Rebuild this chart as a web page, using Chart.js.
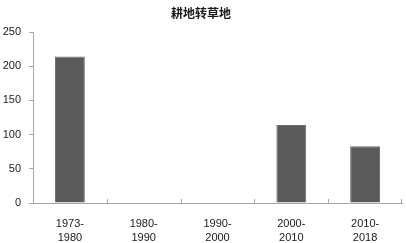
<!DOCTYPE html>
<html>
<head>
<meta charset="utf-8">
<script src="https://cdn.jsdelivr.net/npm/chart.js@4/dist/chart.umd.min.js"></script>
<style>
  html, body { margin: 0; padding: 0; background: #fff; }
  #wrap { width: 406px; height: 243px; }
</style>
</head>
<body>
<div id="wrap"><canvas id="chart-bar"></canvas></div>
<script>
const periods = [['1973-', '1980'], ['1980-', '1990'], ['1990-', '2000'], ['2000-', '2010'], ['2010-', '2018']];
const areaValues = [214, 0, 0, 114, 83];
const yTicks = [0, 50, 100, 150, 200, 250];
const chartTitle = '耕地转草地';

const axisColor = '#a6a6a6';
const textColor = '#1a1a1a';

// small tick marks between categories, pointing up into the plot like the original
const innerTicks = {
  id: 'innerTicks',
  afterDraw(chart) {
    const x = chart.scales.x;
    const ctx = chart.ctx;
    const bottom = chart.chartArea.bottom;
    ctx.save();
    ctx.strokeStyle = axisColor;
    ctx.lineWidth = 1;
    for (let i = 1; i <= periods.length; i++) {
      const px = Math.round((x.getPixelForValue(i - 1) + x.getPixelForValue(i)) / 2) + 0.5;
      const pos = i === periods.length ? Math.round(chart.chartArea.right) - 0.5 : px;
      ctx.beginPath();
      ctx.moveTo(pos, bottom);
      ctx.lineTo(pos, bottom - 4);
      ctx.stroke();
    }
    ctx.restore();
  }
};

new Chart(document.getElementById('chart-bar'), {
  type: 'bar',
  data: {
    labels: periods,
    datasets: [{
      data: areaValues,
      backgroundColor: '#5a5a5a',
      borderColor: '#6e6e6e',
      borderWidth: 1,
      barPercentage: 0.405,
      categoryPercentage: 1
    }]
  },
  options: {
    responsive: true,
    maintainAspectRatio: false,
    animation: false,
    layout: { padding: { right: 4, left: 0, bottom: 0, top: 0 } },
    plugins: {
      legend: { display: false },
      tooltip: { enabled: false },
      title: {
        display: true,
        text: chartTitle,
        color: textColor,
        font: { family: '"Noto Sans CJK SC"', size: 12, weight: 'bold', lineHeight: 1.2 },
        padding: { top: 6, bottom: 11.6 }
      }
    },
    scales: {
      x: {
        grid: { display: false, drawTicks: false },
        border: { color: axisColor },
        ticks: {
          color: textColor,
          font: { family: '"Liberation Sans"', size: 11, lineHeight: 1.36 },
          padding: 13,
          maxRotation: 0
        },
        afterFit(scale) { scale.height = 40; }
      },
      y: {
        min: 0,
        max: 250,
        afterBuildTicks(scale) { scale.ticks = yTicks.map(v => ({ value: v })); },
        grid: { drawOnChartArea: false, tickLength: 4, color: axisColor },
        border: { color: axisColor },
        ticks: {
          color: textColor,
          font: { family: '"Liberation Sans"', size: 11 },
          padding: 8
        },
        afterFit(scale) { scale.width = 33; }
      }
    }
  },
  plugins: [innerTicks]
});
</script>
</body>
</html>
